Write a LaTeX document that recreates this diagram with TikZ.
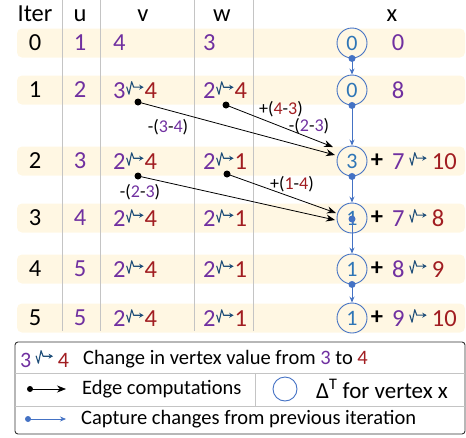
\documentclass[tikz,border=0pt]{standalone}
\usepackage{fontspec}
\setmainfont{Carlito}
\usepackage{xcolor}
\usepackage{tikz}
\usetikzlibrary{positioning, calc, arrows.meta}

\definecolor{valPurple}{HTML}{7030A0}
\definecolor{valRed}{HTML}{A11D21}
\definecolor{chgBlue}{HTML}{1F4E79}
\definecolor{circBlue}{HTML}{4472C4}
\definecolor{digBlue}{HTML}{2E75B6}
\definecolor{bandFill}{HTML}{FFF7E3}
\definecolor{gridGray}{HTML}{C4C4C4}

% seta ondulada (mudanca de valor)
\newcommand{\chg}{\hspace{0.5pt}\tikz[baseline=0pt, x=1pt, y=1pt]{\draw[chgBlue, line width=1.1pt, line join=round, -{Stealth[length=4.5pt, width=5pt]}] (0,12) -- (2.3,4.5) -- (5,17) -- (7,11.5) -- (17,11.5);}\hspace{0.5pt}}
\newcommand{\pv}[1]{\textcolor{valPurple}{#1}}
\newcommand{\rv}[1]{\textcolor{valRed}{#1}}

\begin{document}
\begin{tikzpicture}[x=1pt, y=-1pt,
    % estilos
    cell/.style={inner sep=0pt, font=\fontsize{24.5}{28}\selectfont},
    head/.style={cell, anchor=base},
    valnode/.style={cell, anchor=west},
    deltanode/.style={circle, draw=circBlue, line width=0.9pt, minimum size=30pt, inner sep=0pt, text=digBlue, font=\fontsize{22}{26}\selectfont},
    edgelbl/.style={inner sep=0pt, font=\fontsize{18}{21}\selectfont},
    edgeLine/.style={draw=black, line width=0.8pt, -{Stealth[length=9pt, width=7pt]}},
    capLine/.style={draw=circBlue, line width=0.9pt, -{Stealth[length=6pt, width=5pt]}},
    rowBg/.style={fill=bandFill, rounded corners=5pt},
    colLine/.style={draw=gridGray, line width=0.9pt},
    legtxt/.style={inner sep=0pt, anchor=west, font=\fontsize{20.5}{24}\selectfont}
]
\useasboundingbox (0,0) rectangle (466,437);

% ==========================
% FAIXAS DAS LINHAS E COLUNAS
% ==========================
\foreach \y in {43, 90, 161, 218, 269, 318} { \fill[rowBg] (17,\y-14.5) rectangle (465,\y+14.5); }
\foreach \x in {62, 100, 194, 253} { \draw[colLine] (\x,0) -- (\x,331); }

% ==========================
% CABECALHO
% ==========================
\node[head] (hIter) at (35,21) {Iter};
\node[head] (hU) at (80,21) {u};
\node[head] (hV) at (143,21) {v};
\node[head] (hW) at (222,21) {w};
\node[head] (hX) at (392,21) {x};

% ==========================
% VALORES
% ==========================
\foreach \i/\y/\u in {0/43/1, 1/90/2, 2/161/3, 3/218/4, 4/269/5, 5/318/5} {
  \node[cell] (it\i) at (35,\y) {\i};
  \node[cell, text=valPurple] (u\i) at (80,\y) {\u};
}

\node[valnode] (v0) at (113,43) {\pv{4}};
\node[valnode] (w0) at (203,43) {\pv{3}};
\node[valnode] (v1) at (113,90) {\pv{3}\chg\rv{4}};
\node[valnode] (w1) at (203,90) {\pv{2}\chg\rv{4}};
\foreach \i/\y in {2/161, 3/218, 4/269, 5/318} {
  \node[valnode] (v\i) at (113,\y) {\pv{2}\chg\rv{4}};
  \node[valnode] (w\i) at (203,\y) {\pv{2}\chg\rv{1}};
}

% coluna x
\foreach \i/\y/\d in {0/43/0, 1/90/0, 2/161/3, 3/218/1, 4/269/1, 5/318/1} { \node[deltanode] (c\i) at (352,\y) {\d}; }
\node[cell, text=valPurple] (x0) at (398,43) {0};
\node[cell, text=valPurple] (x1) at (398,90) {8};
\foreach \i/\y/\a/\b in {2/161/7/10, 3/218/7/8, 4/269/8/9, 5/318/9/10} {
  \node[cell] (p\i) at (377,\y) {\textbf{+}};
  \node[valnode] (x\i) at (392,\y) {\pv{\a}\,\chg\,\rv{\b}};
}

% ==========================
% CAPTURA ENTRE ITERACOES
% ==========================
\foreach \a/\b in {0/1, 1/2, 2/3, 4/5} {
  \draw[capLine] (c\a.south) -- (c\b.north);
  \fill[circBlue] (c\a.south) circle (3.5);
}
\coordinate (c3dot) at ($(c3.center)+(0,1)$);
\draw[capLine] (c3dot) -- (c4.north);
\fill[circBlue] (c3dot) circle (3.5);

% ==========================
% COMPUTACOES DAS ARESTAS
% ==========================
\coordinate (d1) at (138,102);
\coordinate (d2) at (226,105);
\coordinate (d3) at (138,176);
\coordinate (d4) at (227,174);
\coordinate (t1) at ($(c2.center)+(-17,-6)$);
\coordinate (t2) at ($(c2.center)+(-19,-14)$);
\coordinate (t3) at ($(c3.center)+(-17,2)$);
\coordinate (t4) at ($(c3.center)+(-16,-5)$);
\foreach \i in {1,...,4} { \draw[edgeLine] (d\i) -- (t\i); \fill (d\i) circle (3.5); }

\node[edgelbl] (lb1) at (168,127) {-(\pv{3}-\pv{4})};
\node[edgelbl] (lb2) at (281,109) {+(\rv{4}-\rv{3})};
\node[edgelbl] (lb3) at (309,126) {-(\pv{2}-\pv{3})};
\node[edgelbl] (lb4) at (140,192) {-(\pv{2}-\pv{3})};
\node[edgelbl] (lb5) at (292,184) {+(\rv{1}-\rv{4})};

% ==========================
% LEGENDA
% ==========================
\draw[draw=black!80, line width=0.9pt, rounded corners=3pt] (15,342) rectangle (465,434);
\draw[colLine] (15,373) -- (465,373);
\draw[colLine] (15,406) -- (465,406);
\draw[colLine] (255,373) -- (255,406);

\node[legtxt, font=\fontsize{22}{26}\selectfont] (lgSym) at (20,359) {\pv{3}\,\chg\,\rv{4}};
\node[legtxt] (lgChg) at (83,359) {Change in vertex value from \pv{3} to \rv{4}};

\coordinate (lgE1) at (30,389);
\coordinate (lgE2) at (66,389);
\draw[edgeLine, line width=0.7pt] (lgE1) -- (lgE2);
\fill (lgE1) circle (3);
\node[legtxt] (lgEdge) at (82,389) {Edge computations};
\node[deltanode, minimum size=24pt] (lgCirc) at (285,389) {};
\node[legtxt, font=\fontsize{23}{26}\selectfont] (lgDelta) at (316,389) {Δ\textsuperscript{T} for vertex x};

\coordinate (lgC1) at (28,419);
\coordinate (lgC2) at (66,419);
\draw[capLine, line width=0.7pt] (lgC1) -- (lgC2);
\fill[circBlue] (lgC1) circle (3);
\node[legtxt] (lgCap) at (81,419) {Capture changes from previous iteration};

\end{tikzpicture}
\end{document}
